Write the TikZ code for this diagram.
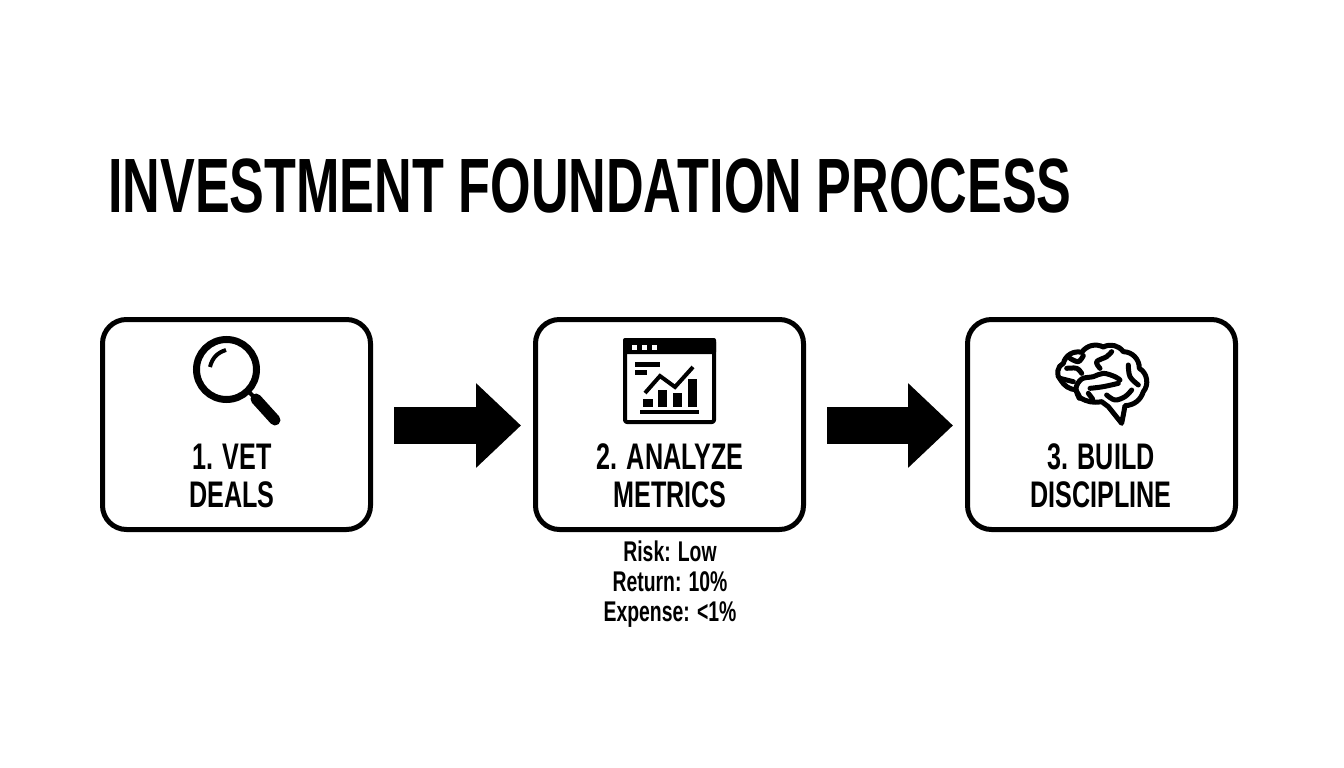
\documentclass[tikz,border=0pt]{standalone}
\usepackage{fontspec}
\setmainfont{Liberation Sans}[FakeStretch=0.68]
\newfontfamily\titlefont{Liberation Sans}[FakeStretch=0.677]
\usetikzlibrary{arrows.meta}
\usetikzlibrary{positioning}
\tikzset{stepbox/.style={rectangle,draw=black,line width=5pt,rounded corners=24pt,
minimum width=268pt,minimum height=210pt,inner sep=0pt},
steplabel/.style={align=center,inner sep=0pt,font=\fontsize{37}{38}\selectfont\bfseries},
metric/.style={align=center,inner sep=0pt,font=\fontsize{28.5}{30}\selectfont\bfseries},
flow/.style={line width=37pt,-{Triangle[length=45pt,width=82pt]},shorten <=21pt,shorten >=12pt},
icon/.style={line width=4pt,line cap=round,line join=round},
brain/.style={line width=5pt,line cap=round,line join=round}}
\begin{document}
\begin{tikzpicture}[x=1pt,y=-1pt]
  \useasboundingbox (0,0) rectangle (1344,768);
  \node (title) [anchor=west,inner sep=0pt,font=\fontsize{77}{77}\selectfont\bfseries\titlefont] at (108,186) {INVESTMENT FOUNDATION PROCESS};
  \node (box1) [stepbox] at (236.5,424.5) {};
  \node (box2) [stepbox] at (669.5,424.5) {};
  \node (box3) [stepbox] at (1101.5,424.5) {};
  \draw [flow] ([yshift=-1pt]box1.east) -- ([yshift=-1pt]box2.west);
  \draw [flow] ([yshift=-1pt]box2.east) -- ([yshift=-1pt]box3.west);
  \node (vet) [steplabel] at (232,476) {1. VET\\DEALS};
  \node (analyze) [steplabel] at (670,476) {2. ANALYZE\\METRICS};
  \node (build) [steplabel] at (1101,476) {3. BUILD\\DISCIPLINE};
  \node (metrics) [metric] at (670,584) {Risk: Low\\Return: 10\%\\Expense: <1\%};
  % magnifier
  \draw [line width=7pt] (226.5,369.5) circle (30);
  \draw [line width=4pt] (210,367) to[bend left=30] (226,350);
  \draw [line width=4pt] (248,391) -- (256,399);
  \draw [line width=11pt,line cap=round] (256,399) -- (275,420);
  % chart window
  \draw [icon,fill=white,rounded corners=2pt] (625,340) rectangle (714,422);
  \fill [rounded corners=2pt] (623,338) rectangle (716,354);
  \foreach \x in {634,644,654}
    \fill [white] (\x-2.5,344.5) rectangle (\x+2.5,349.5);
  \fill (635,362) rectangle (660,367);
  \fill (635,370) rectangle (647,375);
  \fill (643,399) rectangle (653,407);
  \fill (658,390) rectangle (667,407);
  \fill (673,393) rectangle (682,407);
  \fill (688,379) rectangle (697,407);
  \fill (640,410) rectangle (699,414);
  \draw [line width=4pt] (645,393) -- (660,376) -- (675,387) -- (693,367);
  % brain
  \begin{scope}[shift={(1040,335)},x=0.3333pt,y=-0.3333pt,brain]
    \draw (62,135) to[bend left=60] (70,85) to[bend left=45] (125,52) to[bend left=40] (190,36)
      to[bend left=40] (250,50) to[bend left=45] (298,100) to[bend left=50] (310,170)
      to[bend left=35] (255,212) -- (250,240) -- (245,265) -- (225,240) -- (205,215) -- (185,200)
      to[bend left=20] (120,188) -- (108,165) to[bend left=25] cycle;
    \draw plot [smooth,tension=0.6] coordinates {(118,190) (108,160) (125,132) (160,125) (190,115) (225,125) (240,135)};
    \draw plot [smooth,tension=0.6] coordinates {(150,160) (190,155) (235,145)};
    \draw (145,175) -- (158,192);
    \draw plot [smooth,tension=0.6] coordinates {(200,180) (225,195) (255,185) (275,165)};
    \draw plot [smooth,tension=0.6] coordinates {(265,90) (270,125) (295,150)};
    \draw plot [smooth,tension=0.6] coordinates {(180,100) (170,80) (200,65) (215,50)};
    \draw plot [smooth,tension=0.6] coordinates {(90,70) (115,80) (130,62)};
    \draw plot [smooth,tension=0.6] coordinates {(80,100) (110,100) (125,115)};
    \draw plot [smooth,tension=0.6] coordinates {(60,130) (100,140)};
  \end{scope}
\end{tikzpicture}
\end{document}
